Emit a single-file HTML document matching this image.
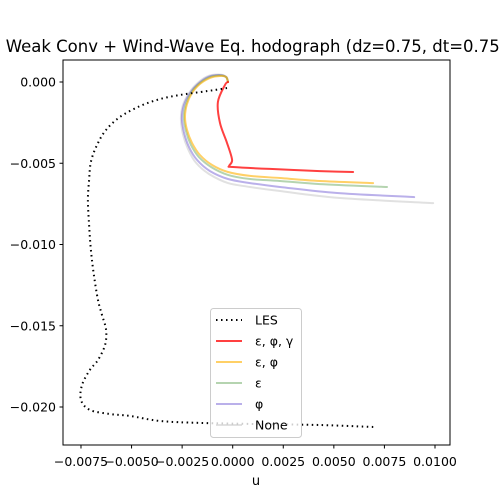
<!DOCTYPE html>
<html><head><meta charset="utf-8"><style>
html,body{margin:0;padding:0;background:#fff;}
svg{display:block;font-family:"DejaVu Sans","Liberation Sans",sans-serif;}
</style></head><body>
<svg id="chart" width="500" height="500" viewBox="0 0 500 500">
<text x="256" y="52" font-size="16.5" text-anchor="middle">Weak Conv + Wind-Wave Eq. hodograph (dz=0.75, dt=0.75)</text>
<g id="series"></g>
<rect x="63" y="60" width="387" height="385" fill="none" stroke="#000" stroke-width="1"/>
<g id="ticks" font-size="12.5"></g>
<text x="256" y="485" font-size="13" text-anchor="middle">u</text>
<g id="legend"></g>
</svg>
<script>
const xTicks = [-0.0075,-0.005,-0.0025,0,0.0025,0.005,0.0075,0.01];
const xTickLabels = ["−0.0075","−0.0050","−0.0025","0.0000","0.0025","0.0050","0.0075","0.0100"];
const yTicks = [0,-0.005,-0.01,-0.015,-0.02];
const yTickLabels = ["0.000","−0.005","−0.010","−0.015","−0.020"];
const seriesNames = ["LES","ε, φ, γ","ε, φ","ε","φ","None"];
const lesU = [-0.00028,-0.00087,-0.00162,-0.00261,-0.00360,-0.00458,-0.00557,-0.00626,-0.00671,-0.00701,-0.00710,-0.00716,-0.00710,-0.00701,-0.00686,-0.00666,-0.00646,-0.00626,-0.00631,-0.00666,-0.00706,-0.00745,-0.00750,-0.00706,-0.00607,-0.00508,-0.00360,-0.00162,0.00134,0.00431,0.00698];
const lesV = [-0.00037,-0.00049,-0.00062,-0.00080,-0.00105,-0.00148,-0.00215,-0.00295,-0.00388,-0.00492,-0.00603,-0.00726,-0.00880,-0.01034,-0.01188,-0.01342,-0.01434,-0.01526,-0.01618,-0.01711,-0.01772,-0.01865,-0.01957,-0.02018,-0.02043,-0.02055,-0.02086,-0.02098,-0.02105,-0.02111,-0.02123];
const efgU = [-0.00023,-0.00038,-0.00073,-0.00063,-0.00028,-0.00003,-0.00018,0.00001,0.00184,0.00431,0.00595];
const efgV = [0,-0.00018,-0.00123,-0.00252,-0.00375,-0.00480,-0.00517,-0.00523,-0.00535,-0.00548,-0.00554];
const efU = [-0.00023,-0.00033,-0.00063,-0.00112,-0.00162,-0.00201,-0.00226,-0.00236,-0.00226,-0.00201,-0.00162,-0.00102,-0.00023,0.00086,0.00234,0.00432,0.00694];
const efV = [0,0.00031,0.00037,0.00025,-0.00012,-0.00068,-0.00135,-0.00215,-0.00295,-0.00375,-0.00449,-0.00511,-0.00554,-0.00578,-0.00591,-0.00609,-0.00622];
const eU = [-0.00023,-0.00033,-0.00068,-0.00117,-0.00167,-0.00206,-0.00231,-0.00241,-0.00231,-0.00206,-0.00167,-0.00107,-0.00023,0.00086,0.00234,0.00432,0.00763];
const eV = [0,0.00031,0.00040,0.00028,-0.00012,-0.00068,-0.00135,-0.00215,-0.00302,-0.00388,-0.00462,-0.00523,-0.00572,-0.00597,-0.00609,-0.00628,-0.00646];
const fU = [-0.00023,-0.00033,-0.00068,-0.00122,-0.00172,-0.00211,-0.00241,-0.00251,-0.00241,-0.00216,-0.00176,-0.00112,-0.00023,0.00086,0.00234,0.00516,0.00897];
const fV = [0,0.00031,0.00043,0.00031,-0.00012,-0.00068,-0.00142,-0.00222,-0.00308,-0.00400,-0.00480,-0.00548,-0.00597,-0.00622,-0.00646,-0.00683,-0.00708];
const nU = [-0.00023,-0.00033,-0.00073,-0.00127,-0.00176,-0.00216,-0.00246,-0.00256,-0.00246,-0.00221,-0.00181,-0.00117,-0.00023,0.00086,0.00234,0.00531,0.00991];
const nV = [0,0.00034,0.00046,0.00034,-0.00009,-0.00068,-0.00142,-0.00228,-0.00320,-0.00412,-0.00498,-0.00566,-0.00622,-0.00646,-0.00671,-0.00714,-0.00745];

const NS='http://www.w3.org/2000/svg';
function xs(u){return 232.7 + u*20229;}
function ys(v){return 82 - v*16250;}
function mk(tag, attrs, parent){const e=document.createElementNS(NS,tag);for(const k in attrs)e.setAttribute(k,attrs[k]);parent.appendChild(e);return e;}
function smoothPath(P){
  let d='M'+P[0][0].toFixed(1)+','+P[0][1].toFixed(1);
  for(let i=0;i<P.length-1;i++){
    const p0=P[i-1]||P[i],p1=P[i],p2=P[i+1],p3=P[i+2]||P[i+1];
    const c1=[p1[0]+(p2[0]-p0[0])/6,p1[1]+(p2[1]-p0[1])/6];
    const c2=[p2[0]-(p3[0]-p1[0])/6,p2[1]-(p3[1]-p1[1])/6];
    d+=' C'+c1[0].toFixed(1)+','+c1[1].toFixed(1)+' '+c2[0].toFixed(1)+','+c2[1].toFixed(1)+' '+p2[0].toFixed(1)+','+p2[1].toFixed(1);
  }
  return d;
}

const tg=document.getElementById('ticks');
xTicks.forEach((t,i)=>{
  const x=xs(t);
  const l=mk('line',{x1:x,x2:x,y1:445,y2:448.5,stroke:'#000'},tg);
  
  
  const tx=mk('text',{x:x,y:466,'text-anchor':'middle'},tg);
  tx.textContent=xTickLabels[i];
  
  
});
yTicks.forEach((t,i)=>{
  const y=ys(t);
  const l=mk('line',{x1:59.5,x2:63,y1:y,y2:y,stroke:'#000'},tg);
  
  
  const tx=mk('text',{x:56,y:y+4.5,'text-anchor':'end'},tg);
  tx.textContent=yTickLabels[i];
  
  
});

const sg=document.getElementById('series');
const styles=[
 {c:'#000',w:2,d:'1.5,3.5',o:1},
 {c:'#ff0000',w:2,d:'',o:0.75},
 {c:'#ffb000',w:2,d:'',o:0.6},
 {c:'#5aa050',w:2,d:'',o:0.45},
 {c:'#6650d0',w:2,d:'',o:0.45},
 {c:'#aaaaaa',w:2,d:'',o:0.35}
];
const data=[[lesU,lesV],[efgU,efgV],[efU,efV],[eU,eV],[fU,fV],[nU,nV]];
const sNames=['les-line','efg-line','ef-line','e-line','f-line','none-line'];
for(let k=data.length-1;k>=0;k--){
  const [U,V]=data[k];
  const P=U.map((u,i)=>[xs(u),ys(V[i])]);
  const s=styles[k];
  const p=mk('path',{d:smoothPath(P),fill:'none',stroke:s.c,'stroke-width':s.w,'stroke-opacity':s.o,'stroke-linejoin':'round','stroke-linecap':k==0?'butt':'round'},sg);
  if(s.d)p.setAttribute('stroke-dasharray',s.d);
  
  
}

const lg=document.getElementById('legend');
mk('rect',{x:210.5,y:308.5,width:91,height:129,rx:3,fill:'#fff','fill-opacity':0.8,stroke:'#ccc'},lg);
seriesNames.forEach((n,i)=>{
  const y=320+i*21;
  const s=styles[i];
  const l=mk('line',{x1:216,x2:242,y1:y,y2:y,stroke:s.c,'stroke-width':s.w,'stroke-opacity':s.o},lg);
  if(s.d)l.setAttribute('stroke-dasharray',s.d);
  
  
  const t=mk('text',{x:255,y:y+4.5,'font-size':12.5},lg);
  t.textContent=n;
  
  
});
</script>
</body></html>
